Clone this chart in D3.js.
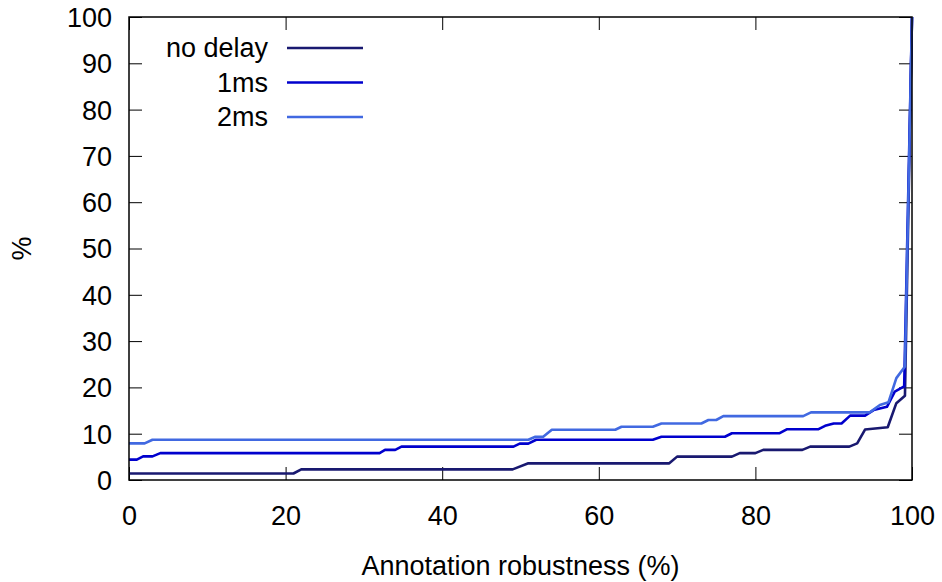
<!DOCTYPE html>
<html>
<head>
<meta charset="utf-8">
<script src="https://cdn.jsdelivr.net/npm/d3@7"></script>
<style>
  html, body { margin: 0; padding: 0; background: #fff; }
  svg { display: block; }
  text { font-family: "Liberation Sans", Arial, Helvetica, sans-serif; fill: #000; }
</style>
</head>
<body>
<svg id="chart" width="942" height="582"></svg>
<script>
// Cumulative share (%) vs. annotation robustness (%) for three delay settings
const seriesNames = ["no delay", "1ms", "2ms"];
const seriesColors = ["#191970", "#0000cd", "#4169e1"];

const noDelayX = [0, 21, 22, 49, 51, 69, 70, 77, 78, 80, 81, 86, 87, 92, 93, 94, 96.9, 98, 99.1, 100];
const noDelayY = [1.4, 1.4, 2.3, 2.3, 3.6, 3.6, 5.05, 5.05, 5.8, 5.8, 6.5, 6.5, 7.2, 7.2, 7.9, 10.9, 11.4, 16.6, 18.2, 100];

const oneMsX = [0, 1, 1.8, 3, 4, 32, 32.7, 34, 34.8, 49.1, 49.9, 51, 52, 66.9, 68, 76.1, 77, 83.1, 84, 88, 88.9, 90, 91, 92.1, 94, 95.1, 96.8, 97.8, 99, 100];
const oneMsY = [4.4, 4.4, 5.1, 5.1, 5.8, 5.8, 6.5, 6.5, 7.2, 7.2, 7.85, 7.85, 8.7, 8.7, 9.35, 9.35, 10.1, 10.1, 10.95, 10.95, 11.7, 12.2, 12.2, 13.9, 13.9, 15.1, 15.8, 19.1, 20.2, 100];

const twoMsX = [0, 2, 3, 51, 51.9, 52.9, 54, 62.1, 62.9, 66.9, 68, 73.1, 74, 75, 75.9, 86.1, 87.1, 94.6, 95.9, 97, 98, 99.1, 100];
const twoMsY = [7.9, 7.9, 8.7, 8.7, 9.35, 9.35, 10.86, 10.86, 11.5, 11.5, 12.2, 12.2, 12.96, 12.96, 13.8, 13.8, 14.6, 14.6, 16.2, 16.8, 22, 24.5, 100];

const xTicks = [0, 20, 40, 60, 80, 100];
const yTicks = [0, 10, 20, 30, 40, 50, 60, 70, 80, 90, 100];
const xLabel = "Annotation robustness (%)";
const yLabel = "%";

const seriesX = [noDelayX, oneMsX, twoMsX];
const seriesY = [noDelayY, oneMsY, twoMsY];

const svg = d3.select("#chart");
const plot = { left: 129, right: 912, top: 17, bottom: 480 };
const fontSize = 27;
const tickLen = 13;

const x = d3.scaleLinear().domain([0, 100]).range([plot.left, plot.right]);
const y = d3.scaleLinear().domain([0, 100]).range([plot.bottom, plot.top]);

// mirrored inward ticks on all four sides
const axisStyle = g => {
  g.select(".domain").remove();
  g.selectAll(".tick line").attr("stroke", "#000").attr("stroke-width", 1);
  g.selectAll(".tick text").style("font-size", fontSize + "px").attr("fill", "#000");
};

svg.append("g")
  .attr("transform", `translate(0,${plot.bottom})`)
  .call(d3.axisBottom(x).tickValues(xTicks).tickSizeInner(-tickLen).tickPadding(26).tickFormat(d3.format("d")))
  .call(axisStyle);

svg.append("g")
  .attr("transform", `translate(0,${plot.top})`)
  .call(d3.axisTop(x).tickValues(xTicks).tickSizeInner(-tickLen).tickFormat(""))
  .call(axisStyle);

svg.append("g")
  .attr("transform", `translate(${plot.left},0)`)
  .call(d3.axisLeft(y).tickValues(yTicks).tickSizeInner(-tickLen).tickPadding(17).tickFormat(d3.format("d")))
  .call(axisStyle)
  .selectAll(".tick text").attr("dy", "0.35em");

svg.append("g")
  .attr("transform", `translate(${plot.right},0)`)
  .call(d3.axisRight(y).tickValues(yTicks).tickSizeInner(-tickLen).tickFormat(""))
  .call(axisStyle);

// series lines
const line = d3.line().x(d => x(d[0])).y(d => y(d[1]));
seriesNames.forEach((name, i) => {
  const pts = seriesX[i].map((v, j) => [v, seriesY[i][j]]);
  svg.append("path")
    .datum(pts)
    .attr("fill", "none")
    .attr("stroke", seriesColors[i])
    .attr("stroke-width", 2.6)
    .attr("stroke-linejoin", "round")
    .attr("d", line);
});

// plot frame
svg.append("rect")
  .attr("x", plot.left).attr("y", plot.top)
  .attr("width", plot.right - plot.left).attr("height", plot.bottom - plot.top)
  .attr("fill", "none").attr("stroke", "#000").attr("stroke-width", 1.5);

// legend
const legend = svg.append("g");
seriesNames.forEach((name, i) => {
  const ly = 48 + i * 34.5;
  legend.append("text")
    .attr("x", 268).attr("y", ly).attr("dy", "0.35em")
    .attr("text-anchor", "end")
    .style("font-size", fontSize + "px")
    .text(name);
  legend.append("line")
    .attr("x1", 287).attr("x2", 363).attr("y1", ly).attr("y2", ly)
    .attr("stroke", seriesColors[i]).attr("stroke-width", 2.6);
});

// axis titles
svg.append("text")
  .attr("x", (plot.left + plot.right) / 2).attr("y", 566).attr("dy", "0.35em")
  .attr("text-anchor", "middle")
  .style("font-size", fontSize + "px")
  .text(xLabel);

svg.append("text")
  .attr("transform", `translate(22,${(plot.top + plot.bottom) / 2}) rotate(-90)`)
  .attr("dy", "0.35em")
  .attr("text-anchor", "middle")
  .style("font-size", fontSize + "px")
  .text(yLabel);
</script>
</body>
</html>
